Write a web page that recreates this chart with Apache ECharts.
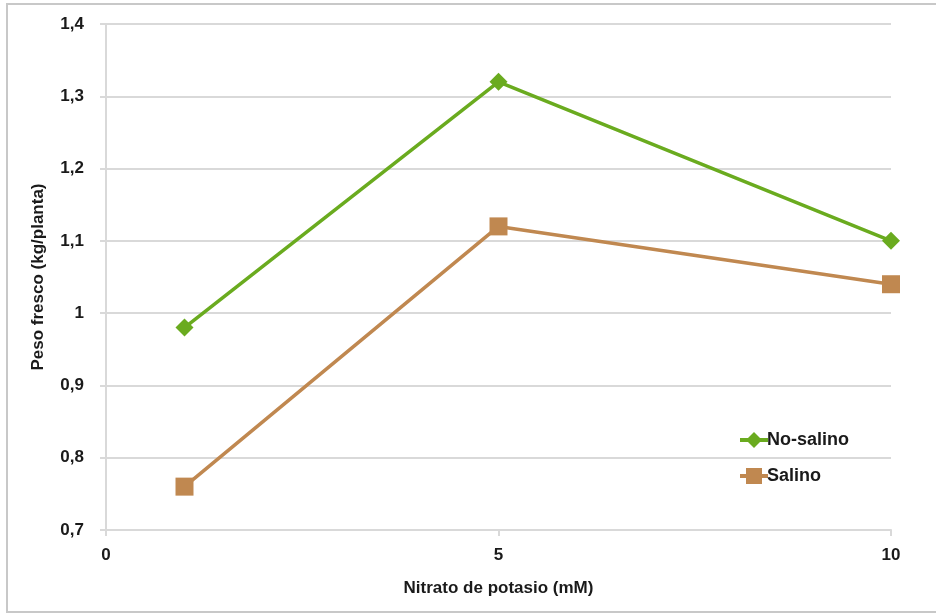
<!DOCTYPE html>
<html><head><meta charset="utf-8">
<script src="https://cdn.jsdelivr.net/npm/echarts@6/dist/echarts.min.js"></script>
<style>html,body{margin:0;padding:0;background:#fff}#c{width:936px;height:615px}</style>
</head><body><div id="c"></div>
<script>
const xValues = [1, 5, 10];
const noSalino = [0.98, 1.32, 1.10];
const salino = [0.76, 1.12, 1.04];
const seriesNames = ['No-salino', 'Salino'];
const xTitle = 'Nitrato de potasio (mM)';
const yTitle = 'Peso fresco (kg/planta)';

const chart = echarts.init(document.getElementById('c'), null, {renderer: 'canvas'});
const font = 'Liberation Sans, Arial, sans-serif';
const gridColor = '#d9d9d9';
const txt = '#1a1a1a';
chart.setOption({
  animation: false,
  backgroundColor: '#fff',
  graphic: [{type: 'rect', shape: {x: 7, y: 4, width: 960, height: 608}, style: {fill: 'none', stroke: '#c8c8c8', lineWidth: 2}, z: -1}],
  grid: {left: 106, right: 45, top: 24, bottom: 85},
  legend: {
    orient: 'vertical', left: 733, top: 426, itemGap: 18, itemWidth: 28, itemHeight: 20,
    lineStyle: {width: 4},
    textStyle: {fontFamily: font, fontWeight: 'bold', fontSize: 18, color: txt, padding: [0,0,0,-6]},
    data: seriesNames
  },
  xAxis: {
    type: 'value', min: 0, max: 10, interval: 5,
    name: xTitle, nameLocation: 'middle', nameGap: 50,
    nameTextStyle: {fontFamily: font, fontWeight: 'bold', fontSize: 17, color: txt},
    axisLine: {show: true, lineStyle: {color: gridColor, width: 2}},
    axisTick: {show: true, length: 6, lineStyle: {color: gridColor, width: 2}},
    axisLabel: {fontFamily: font, fontWeight: 'bold', fontSize: 17, color: txt, margin: 17},
    splitLine: {show: false}
  },
  yAxis: {
    type: 'value', min: 0.7, max: 1.4, interval: 0.1,
    name: yTitle, nameLocation: 'middle', nameGap: 59, nameRotate: 90,
    nameTextStyle: {fontFamily: font, fontWeight: 'bold', fontSize: 17, color: txt},
    axisLine: {show: true, lineStyle: {color: gridColor, width: 2}},
    axisTick: {show: true, length: 6, lineStyle: {color: gridColor, width: 2}},
    axisLabel: {fontFamily: font, fontWeight: 'bold', fontSize: 17, color: txt, margin: 22,
      formatter: v => { const r = Math.round(v * 10) / 10; return r === 1 ? '1' : r.toFixed(1).replace('.', ','); }},
    splitLine: {show: true, lineStyle: {color: gridColor, width: 2}}
  },
  series: [
    {name: seriesNames[0], type: 'line', data: xValues.map((x, i) => [x, noSalino[i]]),
     symbol: 'diamond', symbolSize: 18, color: '#6aab1f',
     lineStyle: {width: 3.5, color: '#6aab1f'}, itemStyle: {color: '#6aab1f'}},
    {name: seriesNames[1], type: 'line', data: xValues.map((x, i) => [x, salino[i]]),
     symbol: 'rect', symbolSize: 18, color: '#c08850',
     lineStyle: {width: 3.5, color: '#c08850'}, itemStyle: {color: '#c08850'}}
  ]
});
</script></body></html>
